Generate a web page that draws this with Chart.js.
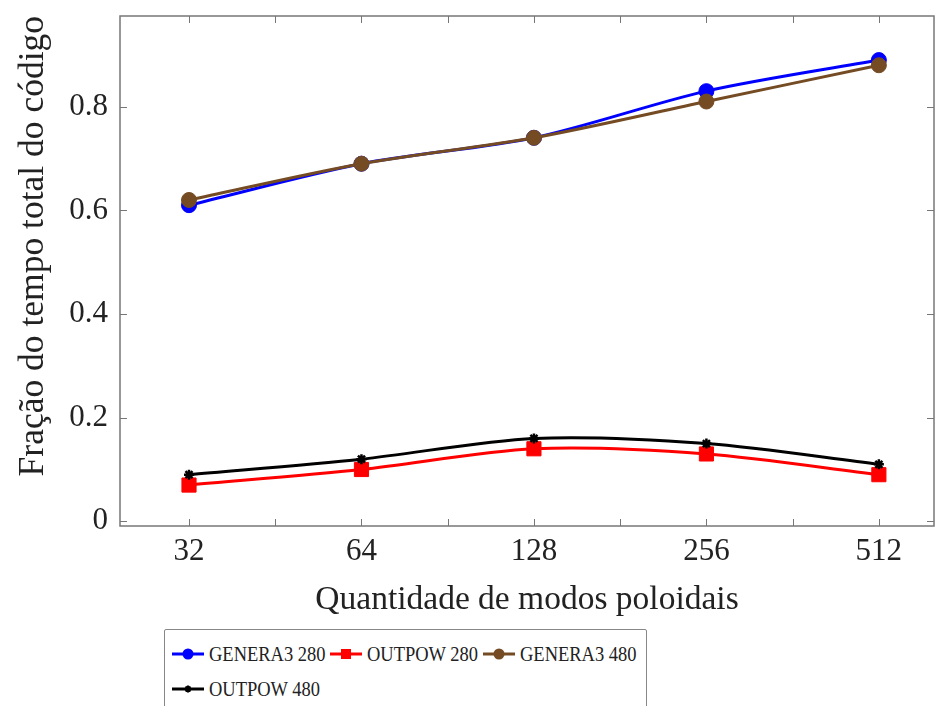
<!DOCTYPE html>
<html lang="pt">
<head>
  <meta charset="UTF-8">
  <title>Fração do tempo total do código</title>
  <style>
    body { margin: 0; background: #fff; font-family: 'Liberation Serif', serif; }
    #wrap { position: relative; width: 935px; height: 706px; overflow: hidden; }
    #legend {
      position: absolute; left: 164px; top: 629px; width: 483px; height: 100px;
      border: 1.5px solid #888; border-radius: 2px; box-sizing: border-box;
      padding: 6px 0 0 7px;
      display: grid; grid-template-columns: 158px 153px auto; grid-auto-rows: 35px;
    }
    .item { display: flex; align-items: center; height: 35px; font-size: 22px; color: #222; white-space: nowrap; }
    .item canvas { margin-right: 5px; display: block; }
    .item span { display: inline-block; transform: scaleX(0.84); transform-origin: left center; }
  </style>
  <script src="https://cdn.jsdelivr.net/npm/chart.js"></script>
</head>
<body>
<div id="wrap">
  <canvas id="chart" width="945" height="620"></canvas>
  <div id="legend"></div>
</div>
<script>
  const modes = [32, 64, 128, 256, 512];
  const genera3_280 = [0.61, 0.69, 0.74, 0.83, 0.89];
  const outpow_280 = [0.07, 0.10, 0.14, 0.13, 0.09];
  const genera3_480 = [0.62, 0.69, 0.74, 0.81, 0.88];
  const outpow_480 = [0.09, 0.12, 0.16, 0.15, 0.11];
  const yTicks = [0, 0.2, 0.4, 0.6, 0.8];

  const series = [
    { label: 'GENERA3 280', data: genera3_280, color: '#0000ff', style: 'circle', r: 7.5, order: 3 },
    { label: 'OUTPOW 280', data: outpow_280, color: '#ff0000', style: 'rect', r: 10, order: 2 },
    { label: 'GENERA3 480', data: genera3_480, color: '#744b23', style: 'circle', r: 7.5, order: 1 },
    { label: 'OUTPOW 480', data: outpow_480, color: '#000000', style: 'star', r: 5, order: 0 }
  ];

  // ticks every half octave, labels only on powers of two
  const xTicks = [];
  for (let i = 0; i < modes.length; i++) {
    xTicks.push(modes[i]);
    if (i < modes.length - 1) xTicks.push(modes[i] * Math.SQRT2);
  }

  // pgfplots-like box with inward tick marks
  const boxPlugin = {
    id: 'box',
    afterDraw(chart) {
      const { ctx, chartArea: a, scales } = chart;
      ctx.save();
      ctx.strokeStyle = '#777';
      ctx.lineWidth = 1;
      xTicks.forEach(v => {
        const x = Math.round(scales.x.getPixelForValue(v)) + 0.5;
        ctx.beginPath();
        ctx.moveTo(x, a.bottom); ctx.lineTo(x, a.bottom - 7);
        ctx.moveTo(x, a.top); ctx.lineTo(x, a.top + 7);
        ctx.stroke();
      });
      yTicks.forEach(v => {
        const y = Math.round(scales.y.getPixelForValue(v)) + 0.5;
        ctx.beginPath();
        ctx.moveTo(a.left, y); ctx.lineTo(a.left + 7, y);
        ctx.moveTo(a.right, y); ctx.lineTo(a.right - 7, y);
        ctx.stroke();
      });
      ctx.lineWidth = 1.5;
      ctx.strokeRect(a.left, a.top, a.right - a.left, a.bottom - a.top);
      ctx.restore();
    }
  };

  new Chart(document.getElementById('chart'), {
    type: 'line',
    data: {
      datasets: series.map(s => ({
        label: s.label,
        data: modes.map((m, i) => ({ x: m, y: s.data[i] })),
        borderColor: s.color,
        backgroundColor: s.color,
        pointStyle: s.style,
        pointRadius: s.r,
        pointHoverRadius: s.r,
        pointBorderWidth: s.style === 'star' ? 2.5 : 1,
        borderWidth: 3,
        tension: 0.3,
        order: s.order
      }))
    },
    options: {
      responsive: false,
      animation: false,
      layout: { padding: { top: 16, right: 2, left: 0, bottom: 0 } },
      plugins: { legend: { display: false }, tooltip: { enabled: false } },
      scales: {
        x: {
          type: 'logarithmic',
          min: 24.25,
          max: 639,
          grid: { display: false, drawTicks: false },
          border: { display: false },
          afterBuildTicks: s => { s.ticks = xTicks.map(v => ({ value: v })); },
          afterFit: s => { s.height = 94; s.paddingLeft = 0; s.paddingRight = 0; },
          ticks: {
            autoSkip: false, maxRotation: 0, padding: 7,
            color: '#222', font: { family: 'Liberation Serif', size: 31 },
            callback: v => Number.isInteger(Math.log2(v)) ? String(v) : ''
          },
          title: {
            display: true, text: 'Quantidade de modos poloidais',
            color: '#222', font: { family: 'Liberation Serif', size: 33.5 },
            padding: { top: 0, bottom: 0 }
          }
        },
        y: {
          min: -0.009,
          max: 0.975,
          grid: { display: false, drawTicks: false },
          border: { display: false },
          afterBuildTicks: s => { s.ticks = yTicks.map(v => ({ value: v })); },
          afterFit: s => { s.width = 120; s.paddingTop = 0; s.paddingBottom = 0; },
          ticks: {
            padding: 12,
            color: '#222', font: { family: 'Liberation Serif', size: 31 },
            callback: v => v === 0 ? '0' : v.toFixed(1)
          },
          title: {
            display: true, text: 'Fração do tempo total do código', align: 'end',
            color: '#222', font: { family: 'Liberation Serif', size: 35.5 },
            padding: { top: 12, bottom: 0 }
          }
        }
      }
    },
    plugins: [boxPlugin]
  });

  // legend, built from the same series
  const legend = document.getElementById('legend');
  series.forEach(s => {
    const item = document.createElement('div');
    item.className = 'item';
    const c = document.createElement('canvas');
    c.width = 32; c.height = 20;
    const g = c.getContext('2d');
    g.strokeStyle = s.color; g.fillStyle = s.color; g.lineWidth = 3;
    g.beginPath(); g.moveTo(0, 10); g.lineTo(32, 10); g.stroke();
    if (s.style === 'circle') {
      g.beginPath(); g.arc(16, 10, 5.5, 0, Math.PI * 2); g.fill();
    } else if (s.style === 'rect') {
      g.fillRect(11, 5, 10, 10);
    } else {
      g.lineWidth = 2;
      g.beginPath();
      for (let k = 0; k < 4; k++) {
        const ang = k * Math.PI / 4;
        g.moveTo(16 - 3.5 * Math.cos(ang), 10 - 3.5 * Math.sin(ang));
        g.lineTo(16 + 3.5 * Math.cos(ang), 10 + 3.5 * Math.sin(ang));
      }
      g.stroke();
    }
    const t = document.createElement('span');
    t.textContent = s.label;
    item.appendChild(c);
    item.appendChild(t);
    legend.appendChild(item);
  });
</script>
</body>
</html>
